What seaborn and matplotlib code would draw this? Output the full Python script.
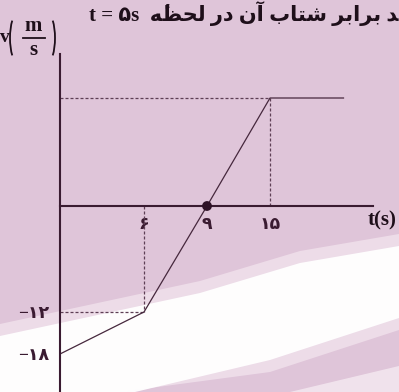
import numpy as np
import matplotlib
matplotlib.use("Agg")
import matplotlib.pyplot as plt
import seaborn as sns
from matplotlib.patches import Polygon, Arc
from matplotlib.lines import Line2D

# Velocity-time data (t in s, v in m/s)
t_s = [0, 6, 9, 15, 22]
v_ms = [-18, -12, 0, 24, 24]

# Axis annotations
xtick_vals = [6, 9, 15]
xtick_labels = ["۶", "۹", "۱۵"]
ytick_vals = [-12, -18]
ytick_labels = ["−۱۲", "−۱۸"]
zero_t, zero_v = 9, 0
corner_points = [(6, -12), (15, 24)]

# Schematic (not-to-scale) axes: piecewise-linear mapping of values to pixels
X_KNOTS, X_PIX = [0, 6, 9, 15], [60, 144, 207, 270]
Y_KNOTS, Y_PIX = [-18, -12, 0, 24], [38, 80, 186, 294]
W, H = 399, 392


def piecewise(src, dst):
    src = np.asarray(src, float)
    dst = np.asarray(dst, float)
    s0 = (dst[1] - dst[0]) / (src[1] - src[0])
    s1 = (dst[-1] - dst[-2]) / (src[-1] - src[-2])

    def f(x):
        x = np.asarray(x, float)
        y = np.interp(x, src, dst)
        y = np.where(x < src[0], dst[0] + (x - src[0]) * s0, y)
        y = np.where(x > src[-1], dst[-1] + (x - src[-1]) * s1, y)
        return y

    return f


fx, ix = piecewise(X_KNOTS, X_PIX), piecewise(X_PIX, X_KNOTS)
fy, iy = piecewise(Y_KNOTS, Y_PIX), piecewise(Y_PIX, Y_KNOTS)

BG = "#dfc5d9"
INK = "#3a1b31"
LINE = "#46283d"
DASH = "#5e3f55"
TXT = "#1e0f1a"

fig = plt.figure(figsize=(W / 100, H / 100), dpi=100, facecolor=BG)


def fig_xy(x, y):
    return (x / W, 1 - y / H)


# pale streaks across the lower part of the page
def fpoly(pts, **kw):
    fig.patches.append(Polygon([fig_xy(x, y) for x, y in pts], closed=True,
                               transform=fig.transFigure, zorder=0, lw=0, **kw))


fpoly([(0, 324), (200, 281), (300, 251), (399, 234), (399, 330),
       (270, 372), (120, 392), (0, 392)], facecolor="#f1e2ec", alpha=0.8)
fpoly([(0, 336), (200, 293), (300, 263), (399, 246), (399, 318),
       (270, 360), (135, 392), (0, 392)], facecolor="#ffffff", alpha=0.95)
fpoly([(290, 392), (399, 366), (399, 392)], facecolor="#f3e6ef", alpha=0.9)

ax = fig.add_axes([0, 0, 1, 1])
ax.set_zorder(1)
ax.set_facecolor("none")
ax.set_xscale("function", functions=(fx, ix))
ax.set_yscale("function", functions=(fy, iy))
ax.set_xlim(float(ix(0)), float(ix(W)))
ax.set_ylim(float(iy(0)), float(iy(H)))

# dashed guides to the corner points
for tc, vc in corner_points:
    ax.plot([0, tc], [vc, vc], ls=(0, (2.4, 1.6)), lw=0.9, color=DASH, zorder=2)
    ax.plot([tc, tc], [0, vc], ls=(0, (2.4, 1.6)), lw=0.9, color=DASH, zorder=2)

sns.lineplot(x=t_s, y=v_ms, ax=ax, color=LINE, lw=0.9, sort=False,
             estimator=None, zorder=3)
sns.scatterplot(x=[zero_t], y=[zero_v], ax=ax, color="#2e1226", s=50,
                edgecolor="none", zorder=5)

for side in ("top", "right"):
    ax.spines[side].set_visible(False)
ax.spines["left"].set_position(("data", 0))
ax.spines["bottom"].set_position(("data", 0))
ax.spines["left"].set_bounds(float(iy(0)), float(iy(H - 54)))
ax.spines["bottom"].set_bounds(0, float(ix(373)))
for side in ("left", "bottom"):
    ax.spines[side].set_color(INK)
    ax.spines[side].set_linewidth(1.5)
    ax.spines[side].set_zorder(4)

tick_font = dict(family=["Liberation Serif", "DejaVu Sans"], weight="bold", size=12.5)
ax.set_xticks(xtick_vals, xtick_labels, **tick_font, color=INK)
ax.set_yticks(ytick_vals, ytick_labels, **tick_font, color=INK)
ax.tick_params(axis="x", length=0, pad=8)
ax.tick_params(axis="y", length=0, pad=8)
ax.set_xlabel("")
ax.set_ylabel("")

# horizontal axis title
fig.text(368 / W, 1 - 220 / H, "t(s)", family="Liberation Serif", weight="bold",
         size=15, color=TXT, ha="left", va="center")

# vertical axis title: v (m / s) with tall parentheses
serif_b = dict(family="Liberation Serif", weight="bold", color=TXT)
fig.text(*fig_xy(0, 37), "v", size=14, ha="left", va="center", **serif_b)
fig.text(*fig_xy(33, 26), "m", size=15, ha="center", va="center", **serif_b)
fig.text(*fig_xy(33, 50), "s", size=15, ha="center", va="center", **serif_b)
fig.lines.append(Line2D([23 / W, 45 / W], [1 - 38 / H, 1 - 38 / H],
                        transform=fig.transFigure, color=TXT, lw=1.3))
for cx, t1, t2 in ((18, 108, 252), (47, -72, 72)):
    fig.patches.append(Arc(fig_xy(cx, 38), 16 / W, 50 / H, theta1=t1, theta2=t2,
                           transform=fig.transFigure, color=TXT, lw=1.3, zorder=3))

# question line (visual order, Arabic presentation forms)
words = [
    "t = ۵s ",
    "\uFEEA\u0654\uFEC8\uFEA4\uFEDF",
    "\uFEAD\uFEA9",
    "\uFEE5\uFE81",
    "\uFE8F\uFE8E\uFE98\uFEB7",
    "\uFEAE\uFE91\uFE8D\uFEAE\uFE91",
    "\uFEAA",
]
fig.text(89 / W, 1 - 14 / H, " ".join(words), family=["Liberation Serif", "DejaVu Sans"],
         weight="bold", size=15, color=TXT, ha="left", va="center")

fig.savefig("out.png", dpi=100, facecolor=BG)
